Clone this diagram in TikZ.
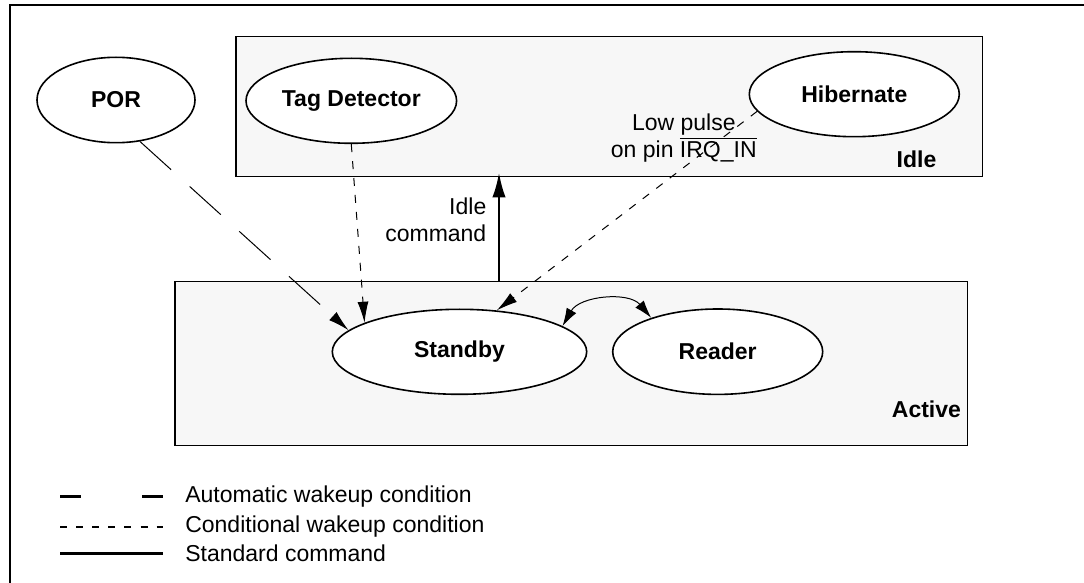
\documentclass[tikz,border=0pt]{standalone}
\usepackage{fontspec}
\setmainfont{Liberation Sans}
\usetikzlibrary{shapes.geometric,arrows.meta,positioning}
\definecolor{boxgray}{RGB}{247,247,247}
\newcommand{\figfont}{\fontsize{11.5pt}{13.3pt}\selectfont}
\begin{document}
\begin{tikzpicture}[x=0.5pt, y=-0.5pt, font=\figfont,
    statebox/.style={draw, line width=0.75pt, fill=boxgray, inner sep=0pt},
    state/.style={draw, ellipse, line width=0.8pt, fill=white, inner sep=0pt, font=\figfont\bfseries},
    boxlabel/.style={inner sep=0pt, font=\figfont\bfseries},
    plain/.style={inner sep=0pt, align=center},
    autoline/.style={line width=0.5pt, dash pattern=on 21pt off 12.5pt},
    condline/.style={line width=0.5pt, dash pattern=on 4pt off 4.5pt},
    stdline/.style={line width=1.3pt},
    tip/.style={-{Latex[length=10.5pt,width=5.5pt]}},
    bigtip/.style={-{Latex[length=12.5pt,width=6.7pt]}}]
    \useasboundingbox (0,0) rectangle (1084,583);
    % outer frame
    \draw[line width=1pt] (10,583) -- (10,5) -- (1084,5);
    % mode boxes
    \node[statebox, minimum width=373.2pt, minimum height=70pt] (Idle) at (609.2,106.7) {};
    \node[statebox, minimum width=396.3pt, minimum height=82pt] (Active) at (571.3,363.7) {};
    \node[boxlabel, anchor=east] (idlelbl) at ([xshift=-23.2pt,yshift=9.2pt]Idle.south east) {Idle};
    \node[boxlabel, anchor=east] (activelbl) at ([xshift=-3.5pt,yshift=18.7pt]Active.south east) {Active};
    % states
    \node[state, minimum width=79pt, minimum height=42.7pt] (POR) at (116,100) {POR};
    \node[state, minimum width=105.3pt, minimum height=42.5pt] (Tag) at (351.3,100.8) {Tag Detector};
    \node[state, minimum width=105pt, minimum height=42.5pt] (Hibernate) at (854.3,94.2) {Hibernate};
    \node[state, minimum width=127.2pt, minimum height=42.5pt] (Standby) at (459.5,351.8) {Standby};
    \node[state, minimum width=105pt, minimum height=42.7pt] (Reader) at (717.7,351.7) {Reader};
    % transition labels
    \node[plain, anchor=east, align=right] (cmdtext) at (486.7,220) {Idle\\command};
    \node[plain] (irqtext) at (683.8,138.3) {Low pulse\\on pin $\overline{\hbox{IRQ\_IN}}$};
    % transitions
    \coordinate (cmdx) at (499,0);
    \draw[stdline, bigtip, shorten >=-2.5pt] (cmdx |- Active.north) -- (cmdx |- Idle.south);
    \draw[autoline, tip] (POR.-60) -- (Standby.169);
    \draw[condline, tip] (Tag.south) -- (Standby.163);
    \draw[condline, tip] (Hibernate.190) -- (Standby.48);
    \draw[line width=0.5pt, {Latex[length=9pt,width=5.5pt]}-{Latex[length=9pt,width=5.5pt]}] (Standby.14) to[bend left=55] (Reader.153);
    % legend
    \coordinate (autoL) at (60,496.7);
    \coordinate (autoR) at (163.3,496.7);
    \coordinate (condL) at (60,526.7);
    \coordinate (condR) at (163.3,526.7);
    \coordinate (stdL) at (60,553.3);
    \coordinate (stdR) at (163.3,553.3);
    \draw[stdline, dash pattern=on 10.5pt off 30.7pt] (autoL) -- (autoR);
    \draw[line width=1pt, dash pattern=on 3.5pt off 4.55pt] (condL) -- (condR);
    \draw[stdline] (stdL) -- (stdR);
    \node[inner sep=0pt, anchor=west, right=10.8pt of autoR] (autotext) {Automatic wakeup condition};
    \node[inner sep=0pt, anchor=west, right=10.8pt of condR] (condtext) {Conditional wakeup condition};
    \node[inner sep=0pt, anchor=west, right=10.8pt of stdR] (stdtext) {Standard command};
\end{tikzpicture}
\end{document}
